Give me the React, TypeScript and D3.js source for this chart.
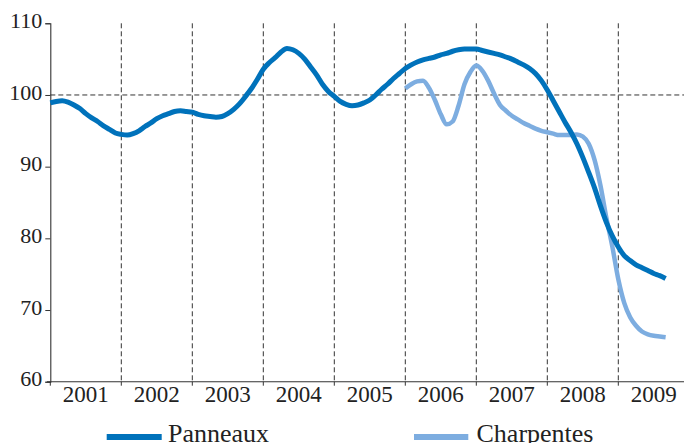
import React, { useEffect, useRef } from "react";
import * as d3 from "d3";

const WIDTH = 684;
const HEIGHT = 443;

const YEARS = ["2001", "2002", "2003", "2004", "2005", "2006", "2007", "2008", "2009"];
const Y_TICKS = [60, 70, 80, 90, 100, 110];

// monthly index, janvier 2001 = 0
const PANNEAUX = [
  98.9, 99.1, 99.2, 99.0, 98.6, 98.1, 97.4, 96.8, 96.3, 95.7, 95.2, 94.7,
  94.5, 94.4, 94.6, 95.0, 95.6, 96.1, 96.7, 97.1, 97.4, 97.7, 97.8, 97.7,
  97.6, 97.3, 97.1, 97.0, 96.9, 97.0, 97.4, 98.0, 98.8, 99.8, 100.9, 102.2,
  103.6, 104.5, 105.2, 106.0, 106.5, 106.3, 105.8, 105.0, 103.9, 102.8, 101.5, 100.5,
  99.8, 99.1, 98.7, 98.5, 98.6, 98.9, 99.3, 100.0, 100.8, 101.5, 102.3, 103.0,
  103.7, 104.2, 104.6, 104.9, 105.1, 105.3, 105.6, 105.8, 106.1, 106.3, 106.4, 106.4,
  106.4, 106.2, 106.0, 105.8, 105.6, 105.3, 105.0, 104.6, 104.2, 103.7, 103.0, 102.0,
  100.7, 99.2, 97.7, 96.2, 94.8, 93.2, 91.3, 89.2, 87.0, 84.5, 82.2, 80.3,
  78.8, 77.6, 76.9, 76.3, 75.9, 75.5, 75.1, 74.8, 74.4,
];

const CHARPENTES_START = 60;
const CHARPENTES = [
  100.9, 101.5, 101.9, 102.0, 101.0, 99.3, 97.3, 95.9, 96.3, 98.5, 101.5, 103.2,
  104.1, 103.4, 102.0, 100.2, 98.6, 97.8, 97.1, 96.6, 96.1, 95.7, 95.3, 95.0,
  94.8, 94.6, 94.4, 94.4, 94.4, 94.5, 94.2, 93.2, 90.9, 87.3, 82.8, 78.8,
  74.3, 71.0, 69.0, 67.8, 67.0, 66.6, 66.4, 66.3, 66.2,
];

const DARK = "#0072bb";
const LIGHT = "#7dade0";
const GRID = "#333";
const FONT = "'Liberation Serif', 'Times New Roman', serif";

const App = () => {
  const axesRef = useRef(null);

  const xScale = d3.scaleLinear().domain([0, 108]).range([50.3, 689.3]);
  const yScale = d3.scaleLinear().domain([60, 110]).range([381.7, 23.3]);

  const lineGen = d3
    .line<[number, number]>()
    .x((d) => xScale(d[0]))
    .y((d) => yScale(d[1]))
    .curve(d3.curveMonotoneX);

  const panneauxPts = PANNEAUX.map((v, i) => [i, v] as [number, number]);
  const charpentesPts = CHARPENTES.map((v, i) => [i + CHARPENTES_START, v] as [number, number]);

  useEffect(() => {
    const g = d3.select(axesRef.current);
    g.selectAll("*").remove();

    // y axis
    const yAxis = d3.axisLeft(yScale).tickValues(Y_TICKS).tickSize(5).tickPadding(3);
    const ya = g.append("g").attr("transform", "translate(50.3,0)").call(yAxis);
    ya.select(".domain").attr("stroke", "#333").attr("stroke-width", 1.1);
    ya.selectAll(".tick line").attr("stroke", "#333");
    ya.selectAll(".tick text")
      .attr("font-family", FONT)
      .attr("font-size", 22)
      .attr("fill", "#222")
      .attr("dy", "0.32em")
      .attr("y", -3);

    // x axis baseline
    g.append("line")
      .attr("x1", 47)
      .attr("x2", WIDTH)
      .attr("y1", yScale(60))
      .attr("y2", yScale(60))
      .attr("stroke", "#333")
      .attr("stroke-width", 1.1);

    // year ticks
    d3.range(0, YEARS.length + 1).forEach((i) => {
      g.append("line")
        .attr("x1", xScale(i * 12))
        .attr("x2", xScale(i * 12))
        .attr("y1", yScale(60))
        .attr("y2", yScale(60) + 4)
        .attr("stroke", "#333");
    });

    // year labels
    YEARS.forEach((y, i) => {
      g.append("text")
        .attr("x", xScale(i * 12 + 6))
        .attr("y", 401.5)
        .attr("text-anchor", "middle")
        .attr("font-family", FONT)
        .attr("font-size", 23)
        .attr("fill", "#222")
        .text(y);
    });
  }, []);

  return (
    <svg
      width={WIDTH}
      height={HEIGHT}
      style={{ position: "absolute", left: 0, top: 0, background: "#fff" }}
    >
      {/* vertical dashed year separators */}
      {d3.range(1, YEARS.length).map((i) => (
        <line
          key={i}
          x1={xScale(i * 12)}
          x2={xScale(i * 12)}
          y1={yScale(110)}
          y2={yScale(60)}
          stroke={GRID}
          strokeWidth={1}
          strokeDasharray="5,3"
        />
      ))}
      {/* reference line at 100 */}
      <line
        x1={xScale(0)}
        x2={WIDTH}
        y1={yScale(100)}
        y2={yScale(100)}
        stroke={GRID}
        strokeWidth={1}
        strokeDasharray="5,3"
      />
      <g ref={axesRef} />
      <path
        d={lineGen(charpentesPts) || ""}
        fill="none"
        stroke={LIGHT}
        strokeWidth={4.5}
        strokeLinejoin="round"
      />
      <path
        d={lineGen(panneauxPts) || ""}
        fill="none"
        stroke={DARK}
        strokeWidth={5}
        strokeLinejoin="round"
      />

      {/* legend */}
      <g fontFamily={FONT} fontSize={26} fill="#222">
        <line x1={106.7} x2={161.7} y1={437} y2={437} stroke={DARK} strokeWidth={6} />
        <text x={168} y={442}>Panneaux</text>
        <line x1={414} x2={468.3} y1={437} y2={437} stroke={LIGHT} strokeWidth={6} />
        <text x={476.5} y={442}>Charpentes</text>
      </g>
    </svg>
  );
};

export default App;
